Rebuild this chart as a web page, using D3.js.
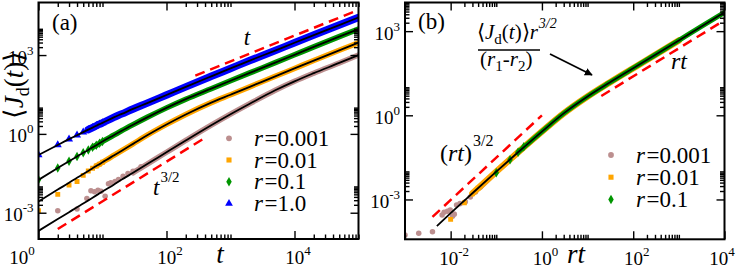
<!DOCTYPE html>
<html><head><meta charset="utf-8">
<script src="https://cdn.jsdelivr.net/npm/d3@7"></script>
<style>
html,body{margin:0;padding:0;background:#fff;}
svg{display:block;}
</style></head><body>
<svg id="chart" width="736" height="268"></svg>
<script>
// ---------- DATA ----------
// Panel (a): <J_d(t)> versus t for four rates r
const tA = [1,2,3,4,5,6,7,8,9,10,15,20,30,50,100,200,500,1000,2000,5000,1e4,2e4,5e4,1e5];
const jR1    = [0.158,0.380,0.631,0.891,1.17,1.45,1.74,2.04,2.34,2.63,4.27,5.75,8.91,14.8,30.2,61.7,155,309,617,1480,2950,5750,13800,26900];
const jR01   = [0.0178,0.0501,0.0912,0.138,0.191,0.245,0.309,0.372,0.437,0.513,0.891,1.32,2.24,4.27,9.77,20.9,52.5,105,209,513,1023,2042,5012,9772];
const jR001  = [0.00269,0.00759,0.0138,0.0214,0.0295,0.0389,0.0490,0.0603,0.0708,0.0832,0.151,0.229,0.417,0.891,2.29,5.50,15.5,30.9,61.7,155,309,617,1514,2951];
const jR0001 = [0.000204,0.000575,0.00105,0.00162,0.00224,0.00295,0.00372,0.00457,0.00550,0.00646,0.0117,0.0182,0.0331,0.0708,0.200,0.562,2.14,5.62,14.1,45.7,100,204,501,1000];
// early simulation points that leave the fitted curve
const orangeEarlyT = [1,2,3,4,5];
const orangeEarlyJ = [0.0012,0.0050,0.0112,0.0155,0.0263];
const brownEarlyT = [2,4,5.7,6.6,7.5,8.5,9.5,11,12.4,13.5,15.7,17.8,21,25,30,40];
const brownEarlyJ = [0.0012,0.00138,0.0035,0.0069,0.0063,0.0072,0.0066,0.0042,0.0126,0.0138,0.0155,0.0182,0.0245,0.0309,0.038,0.056];
// reference power laws in (a)
const refLinT = [282,1e5],  refLinJ = [166,52500];
const ref32T  = [2,380],    ref32J  = [0.00024,0.66];

// Panel (b): scaled <J_d(t)> r^{3/2}/(r1-r2) versus rt
const rtB = [0.005,0.01,0.03,0.1,0.3,1,3,10,30,100,300,1000,3000,1e4];
const fB  = [1.12e-4,3.24e-4,1.66e-3,9.8e-3,0.048,0.263,1.17,4.68,14.5,47.9,141,468,1413,4677];
const brownBT = [0.001,0.002,0.004,0.0065,0.0072,0.0085,0.0098,0.011,0.012,0.0135,0.016,0.021,0.027,0.035,0.045];
const brownBJ = [5.4e-5,6.2e-5,7.1e-5,2.8e-4,3.5e-4,3.8e-4,4.2e-4,2.5e-4,3.0e-4,6.3e-4,7.1e-4,8.3e-4,1.23e-3,1.86e-3,2.8e-3];
const orangeBT = [0.01,0.02,0.03,0.04];
const orangeBJ = [1.95e-4,7.6e-4,1.6e-3,2.5e-3];
const greenBT = [0.1,0.2,0.3,0.4];
const greenBJ = [8.9e-3,0.026,0.048,0.075];
const refB32T = [0.004,1],  refB32J = [2.4e-4,1.0];
const refBLinT = [20,1e4],  refBLinJ = [4.9,2450];

// ticks / labels
const xMajorA = [1,100,1e4], yMajorA = [1e-3,1,1e3];
const xMajorB = [1e-2,1,1e2,1e4], yMajorB = [1e-3,1,1e3];
const legendA = ["0.001","0.01","0.1","1.0"];
const legendB = ["0.001","0.01","0.1"];

// ---------- DRAWING ----------
const BROWN="#bc8f8f", ORANGE="#ffa500", GREEN="#009600", BLUE="#0000ff", RED="#ff0000";
const FONT = "Liberation Serif";
const svg = d3.select("#chart");

function minors(majors, dom){
  const f = majors.length>1 ? majors[1]/majors[0] : 10;
  const ext = [majors[0]/f, ...majors];
  const out=[];
  ext.forEach(m=>{ for(let k=2;k<=10;k++){ const v=m*k; if(v>=dom[0]*0.999 && v<=dom[1]*1.001) out.push(v);} });
  return out;
}
function supLabel(sel){
  sel.each(function(d){
    const e = Math.round(Math.log10(d));
    const t = d3.select(this); t.text(null);
    t.append("tspan").text("10");
    t.append("tspan").attr("dy",-9).attr("font-size",13).text(e<0?"-"+(-e):String(e));
  });
}

function makePanel(id, x0,x1,y0,y1,xDom,yDom,xMaj,yMaj){
  const x = d3.scaleLog().domain(xDom).range([x0,x1]);
  const y = d3.scaleLog().domain(yDom).range([y1,y0]);
  const g = svg.append("g");
  svg.append("clipPath").attr("id","clip"+id).append("rect").attr("x",x0).attr("y",y0).attr("width",x1-x0).attr("height",y1-y0);
  const data = g.append("g").attr("clip-path",`url(#clip${id})`);
  const xmin = minors(xMaj,xDom), ymin = minors(yMaj,yDom);
  const ax = g.append("g");
  const styleAxis = s=>{ s.select(".domain").remove(); s.selectAll("line").attr("stroke","#000").attr("stroke-width",1.4); };
  ax.append("g").attr("transform",`translate(0,${y1})`).call(d3.axisBottom(x).tickValues(xmin).tickSize(-4.5).tickFormat("")).call(styleAxis);
  const bx = ax.append("g").attr("transform",`translate(0,${y1})`).call(d3.axisBottom(x).tickValues(xMaj).tickSize(-8).tickPadding(12)).call(styleAxis);
  bx.selectAll("text").attr("font-size",19).attr("dy","0.71em").attr("dx",3).call(supLabel);
  ax.append("g").attr("transform",`translate(0,${y0})`).call(d3.axisTop(x).tickValues(xmin).tickSize(-4.5).tickFormat("")).call(styleAxis);
  ax.append("g").attr("transform",`translate(0,${y0})`).call(d3.axisTop(x).tickValues(xMaj).tickSize(-8).tickFormat("")).call(styleAxis);
  ax.append("g").attr("transform",`translate(${x0},0)`).call(d3.axisLeft(y).tickValues(ymin).tickSize(-4.5).tickFormat("")).call(styleAxis);
  const ly = ax.append("g").attr("transform",`translate(${x0},0)`).call(d3.axisLeft(y).tickValues(yMaj).tickSize(-8).tickPadding(5)).call(styleAxis);
  ly.selectAll("text").attr("font-size",19).attr("dy","0.42em").attr("x",-5).call(supLabel);
  ax.append("g").attr("transform",`translate(${x1},0)`).call(d3.axisRight(y).tickValues(ymin).tickSize(-4.5).tickFormat("")).call(styleAxis);
  ax.append("g").attr("transform",`translate(${x1},0)`).call(d3.axisRight(y).tickValues(yMaj).tickSize(-8).tickFormat("")).call(styleAxis);
  g.append("rect").attr("x",x0).attr("y",y0).attr("width",x1-x0).attr("height",y1-y0).attr("fill","none").attr("stroke","#000").attr("stroke-width",2);
  return {x,y,g,data,ax:bx};
}

function band(p, T, J, color, w){
  const line = d3.line().x(d=>p.x(d[0])).y(d=>p.y(d[1])).curve(d3.curveMonotoneX);
  p.data.append("path").attr("d",line(d3.zip(T,J))).attr("fill","none").attr("stroke",color).attr("stroke-width",w).attr("stroke-linecap","round").attr("stroke-linejoin","round");
}
function marks(p, T, J, color, type, size){
  p.data.append("g").selectAll("path").data(d3.zip(T,J)).join("path")
    .attr("transform",d=>`translate(${p.x(d[0])},${p.y(d[1])})`)
    .attr("d",d3.symbol(type,size)).attr("fill",color);
}
function curve(p, T, J, color, w, dash){
  const line = d3.line().x(d=>p.x(d[0])).y(d=>p.y(d[1])).curve(d3.curveMonotoneX);
  const path = p.data.append("path").attr("d",line(d3.zip(T,J))).attr("fill","none").attr("stroke",color).attr("stroke-width",w);
  if(dash) path.attr("stroke-dasharray",dash);
}
const sub = (a,from,to)=>a.slice(from,to);

// ----- Panel (a)
const A = makePanel("a",38.5,358.5,2.5,239,[1,1e5],[1e-4,1e5],xMajorA,yMajorA);
A.ax.selectAll(".tick").filter(d=>d===1).select("text").attr("dx",-17);
const iBand = (T,from)=>T.findIndex(v=>v>=from);
marks(A, brownEarlyT, brownEarlyJ, BROWN, d3.symbolCircle, 24);
band(A, sub(tA,iBand(tA,30)), sub(jR0001,iBand(tA,30)), BROWN, 5.5);
marks(A, orangeEarlyT, orangeEarlyJ, ORANGE, d3.symbolSquare, 24);
marks(A, sub(tA,5,10), sub(jR001,5,10), ORANGE, d3.symbolSquare, 24);
band(A, sub(tA,iBand(tA,8)), sub(jR001,iBand(tA,8)), ORANGE, 5.5);
marks(A, sub(tA,0,10), sub(jR01,0,10), GREEN, d3.symbolDiamond, 26);
band(A, sub(tA,iBand(tA,7)), sub(jR01,iBand(tA,7)), GREEN, 5.5);
marks(A, sub(tA,0,10), sub(jR1,0,10), BLUE, d3.symbolTriangle, 28);
band(A, sub(tA,iBand(tA,6)), sub(jR1,iBand(tA,6)), BLUE, 7.5);
[jR0001,jR001,jR01,jR1].forEach(J=>curve(A,tA,J,"#000",1.8));
curve(A, refLinT, refLinJ, RED, 2.5, "10,6");
curve(A, ref32T, ref32J, RED, 2.5, "10,6");

// ----- Panel (b)
const B = makePanel("b",405,724.5,2.5,239.3,[1e-3,1e4],[3.8e-5,1.05e4],xMajorB,yMajorB);
B.ax.selectAll(".tick").filter(d=>d===1e4).select("text").attr("dx",-3);
marks(B, brownBT, brownBJ, BROWN, d3.symbolCircle, 24);
band(B, [0.045].concat(sub(rtB,3,10)), [2.8e-3].concat(sub(fB,3,10)), BROWN, 5.5);
marks(B, orangeBT, orangeBJ, ORANGE, d3.symbolSquare, 24);
band(B, sub(rtB,2,12), sub(fB,2,12), ORANGE, 6.5);
marks(B, greenBT, greenBJ, GREEN, d3.symbolDiamond, 26);
band(B, sub(rtB,4), sub(fB,4), GREEN, 5);
curve(B, rtB, fB, "#000", 1.8);
curve(B, refB32T, refB32J, RED, 2.5, "10,6");
curve(B, refBLinT, refBLinJ, RED, 2.5, "10,6");

// ----- Legends
function legend(items, colors, types, mx, my0, dy){
  items.forEach((lab,i)=>{
    const yy = my0 + i*dy;
    svg.append("path").attr("transform",`translate(${mx},${yy})`).attr("d",d3.symbol(types[i],26)).attr("fill",colors[i]);
    const t = svg.append("text").attr("x",mx+25).attr("y",yy+7.5).attr("font-size",23);
    t.append("tspan").attr("font-style","italic").text("r");
    t.append("tspan").attr("dx",1.5).text("="+lab);
  });
}
legend(legendA,[BROWN,ORANGE,GREEN,BLUE],[d3.symbolCircle,d3.symbolSquare,d3.symbolDiamond,d3.symbolTriangle],229,138.3,21.7);
legend(legendB,[BROWN,ORANGE,GREEN],[d3.symbolCircle,d3.symbolSquare,d3.symbolDiamond],611,155,22.2);

// ----- Text labels
svg.append("text").attr("x",52).attr("y",30).attr("font-size",23).text("(a)");
svg.append("text").attr("x",418).attr("y",29).attr("font-size",23).text("(b)");
svg.append("text").attr("x",220).attr("y",263).attr("font-size",27).attr("font-style","italic").attr("text-anchor","middle").text("t");
svg.append("text").attr("x",576).attr("y",263).attr("font-size",27).attr("font-style","italic").attr("text-anchor","middle").text("rt");
svg.append("text").attr("x",247).attr("y",45).attr("font-size",23).attr("font-style","italic").attr("text-anchor","middle").text("t");
{ const t=svg.append("text").attr("x",153).attr("y",195).attr("font-size",23);
  t.append("tspan").attr("font-style","italic").text("t");
  t.append("tspan").attr("dy",-13).attr("dx",1).attr("font-size",15).text("3/2"); }
{ const t=svg.append("text").attr("x",440).attr("y",161).attr("font-size",24);
  t.append("tspan").text("(");
  t.append("tspan").attr("font-style","italic").text("rt");
  t.append("tspan").text(")");
  t.append("tspan").attr("dy",-15).attr("dx",1).attr("font-size",16).text("3/2"); }
svg.append("text").attr("x",679).attr("y",69).attr("font-size",24).attr("font-style","italic").attr("text-anchor","middle").text("rt");
// y label of (a)
{ const t=svg.append("text").attr("transform","translate(23,85) rotate(-90)").attr("text-anchor","middle").attr("font-size",27);
  t.append("tspan").text("\u27E8");
  t.append("tspan").attr("font-style","italic").text("J");
  t.append("tspan").attr("dy",6).attr("font-size",18).text("d");
  t.append("tspan").attr("dy",-6).text("(");
  t.append("tspan").attr("font-style","italic").text("t");
  t.append("tspan").text(")");
  t.append("tspan").text("\u27E9"); }
// fraction annotation in (b)
{ const t=svg.append("text").attr("x",477).attr("y",39).attr("font-size",21);
  t.append("tspan").text("\u27E8");
  t.append("tspan").attr("font-style","italic").text("J");
  t.append("tspan").attr("dy",5).attr("font-size",15).text("d");
  t.append("tspan").attr("dy",-5).text("(");
  t.append("tspan").attr("font-style","italic").text("t");
  t.append("tspan").text(")\u27E9");
  t.append("tspan").attr("font-style","italic").text("r");
  t.append("tspan").attr("dy",-11).attr("dx",1).attr("font-size",14).attr("font-style","italic").text("3/2"); }
svg.append("line").attr("x1",478).attr("x2",540).attr("y1",50).attr("y2",50).attr("stroke","#000").attr("stroke-width",1.5);
{ const t=svg.append("text").attr("x",480).attr("y",66).attr("font-size",21);
  t.append("tspan").text("(");
  t.append("tspan").attr("font-style","italic").text("r");
  t.append("tspan").attr("dy",5).attr("font-size",15).text("1");
  t.append("tspan").attr("dy",-5).text("-");
  t.append("tspan").attr("font-style","italic").text("r");
  t.append("tspan").attr("dy",5).attr("font-size",15).text("2");
  t.append("tspan").attr("dy",-5).text(")"); }
// arrow
svg.append("defs").append("marker").attr("id","ah").attr("viewBox","0 0 10 10").attr("refX",9).attr("refY",5)
  .attr("markerWidth",8).attr("markerHeight",8).attr("orient","auto").attr("markerUnits","userSpaceOnUse")
  .append("path").attr("d","M0,0L10,5L0,10z").attr("fill","#000");
svg.append("line").attr("x1",550).attr("y1",54).attr("x2",592).attr("y2",75).attr("stroke","#000").attr("stroke-width",1.8).attr("marker-end","url(#ah)");

// serif face on every text
svg.selectAll("text").style("font-family", FONT).attr("fill","#000");
</script>
</body></html>
